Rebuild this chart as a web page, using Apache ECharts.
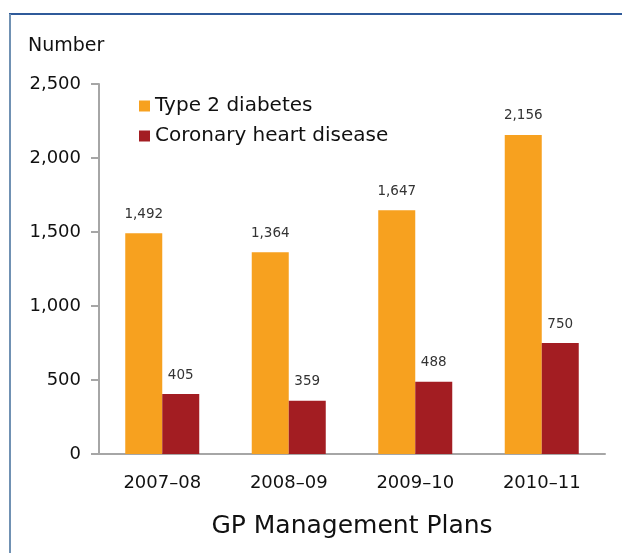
<!DOCTYPE html>
<html>
<head>
<meta charset="utf-8">
<script src="https://cdn.jsdelivr.net/npm/echarts@6/dist/echarts.min.js"></script>
<style>
  html, body { margin: 0; padding: 0; background: #fff; }
  #main { width: 622px; height: 553px; }
</style>
</head>
<body>
<div id="main"></div>
<script>
var categories = ['2007\u201308', '2008\u201309', '2009\u201310', '2010\u201311'];
var diabetes = [1492, 1364, 1647, 2156];
var heart = [405, 359, 488, 750];
var yTicks = [0, 500, 1000, 1500, 2000, 2500];

var FONT = 'DejaVu Sans';
var chart = echarts.init(document.getElementById('main'));

var labelStyle = {
  show: true,
  position: 'top',
  distance: 12,
  fontFamily: FONT,
  fontSize: 13.5,
  color: '#333',
  formatter: function (p) { return p.value.toLocaleString('en-US'); }
};

var option = {
  animation: false,
  textStyle: { fontFamily: FONT },
  graphic: [
    { type: 'line', shape: { x1: 9, y1: 14, x2: 622, y2: 14 }, style: { stroke: '#2f5a9a', lineWidth: 2 } },
    { type: 'line', shape: { x1: 10, y1: 14, x2: 10, y2: 553 }, style: { stroke: '#7091b3', lineWidth: 2 } },
    { type: 'text', left: 28, top: 37, style: { text: 'Number', font: '19px ' + FONT, fill: '#111' } }
  ],
  legend: {
    orient: 'vertical',
    left: 134,
    top: 91,
    itemWidth: 11,
    itemHeight: 11,
    itemGap: 10,
    icon: 'rect',
    textStyle: { fontFamily: FONT, fontSize: 20, color: '#111' },
    data: ['Type 2 diabetes', 'Coronary heart disease']
  },
  grid: { left: 99, right: 17, top: 84, bottom: 99 },
  xAxis: {
    type: 'category',
    data: categories,
    axisLine: { lineStyle: { color: '#a6a6a6', width: 2 } },
    axisTick: { show: false },
    axisLabel: { fontFamily: FONT, fontSize: 18, color: '#111', margin: 20 },
    name: 'GP Management Plans',
    nameLocation: 'middle',
    nameGap: 60,
    nameTextStyle: { fontFamily: FONT, fontSize: 25, color: '#111' }
  },
  yAxis: {
    type: 'value',
    min: yTicks[0],
    max: yTicks[yTicks.length - 1],
    interval: 500,
    splitLine: { show: false },
    axisLine: { show: true, lineStyle: { color: '#a6a6a6', width: 2 } },
    axisTick: { show: true, length: 8, lineStyle: { color: '#a6a6a6', width: 2 } },
    axisLabel: {
      fontFamily: FONT, fontSize: 18, color: '#111', margin: 18,
      formatter: function (v) { return v.toLocaleString('en-US'); }
    }
  },
  series: [
    {
      name: 'Type 2 diabetes',
      type: 'bar',
      data: diabetes,
      barWidth: 37,
      barGap: '0%',
      itemStyle: { color: '#f7a11f' },
      label: labelStyle
    },
    {
      name: 'Coronary heart disease',
      type: 'bar',
      data: heart,
      barWidth: 37,
      barGap: '0%',
      itemStyle: { color: '#a31d22' },
      label: labelStyle
    }
  ]
};
chart.setOption(option);
</script>
</body>
</html>
